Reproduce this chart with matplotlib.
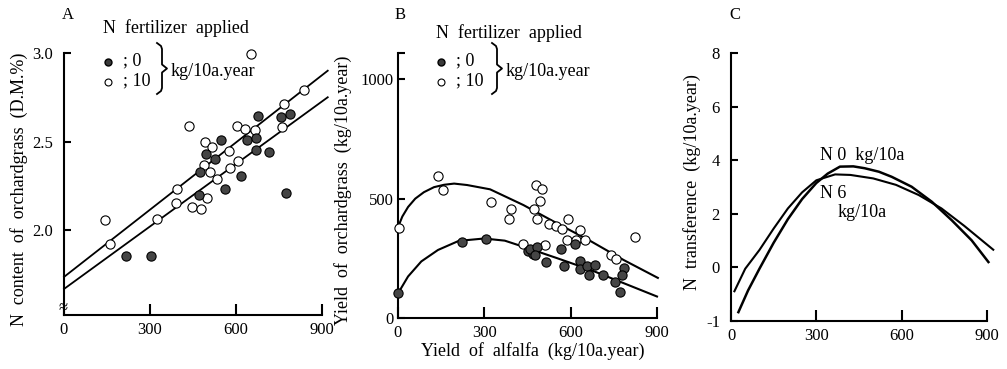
import matplotlib
matplotlib.use('Agg')
import matplotlib.pyplot as plt
from matplotlib.lines import Line2D

plt.rcParams['font.family'] = ['Liberation Serif', 'DejaVu Serif']

# Panel A: N content of orchardgrass vs yield of alfalfa
a_open_x = [143, 160, 654, 435, 325, 395, 392, 445, 478, 499, 491, 517, 488, 510, 533,
            574, 578, 604, 606, 633, 665, 766, 761, 836]
a_open_y = [2.057, 1.92, 2.996, 2.59, 2.06, 2.23, 2.15, 2.13, 2.12, 2.18, 2.50, 2.47, 2.37, 2.33, 2.29,
            2.445, 2.35, 2.59, 2.39, 2.57, 2.566, 2.71, 2.58, 2.79]
a_fill_x = [216, 305, 470, 475, 497, 528, 547, 561, 618, 638, 671, 675, 671, 715, 758, 790, 773]
a_fill_y = [1.853, 1.853, 2.20, 2.33, 2.43, 2.40, 2.51, 2.23, 2.306, 2.51, 2.52, 2.645, 2.45, 2.44,
            2.636, 2.657, 2.21]
a_line_x = [0, 920]
a_upper_y = [1.735, 2.90]
a_lower_y = [1.667, 2.75]

# Panel B: yield of orchardgrass vs yield of alfalfa
b_open_x = [3, 138, 157, 323, 392, 386, 478, 501, 495, 474, 482, 525, 549, 571, 592, 587,
            631, 620, 651, 433, 510, 822, 741, 757]
b_open_y = [379, 596, 536, 486, 458, 415, 556, 539, 490, 455, 415, 394, 386, 372, 416, 327,
            369, 327, 327, 309, 304, 341, 265, 247]
b_fill_x = [0, 221, 305, 452, 470, 460, 483, 475, 514, 567, 577, 615, 632, 633, 656, 683,
            662, 711, 753, 773, 784, 779]
b_fill_y = [104, 320, 331, 282, 267, 288, 299, 262, 235, 288, 216, 309, 240, 205, 216, 220,
            181, 180, 149, 110, 209, 180]
b_up_x = [0, 15, 35, 60, 90, 125, 160, 195, 240, 320, 436, 552, 668, 784, 903]
b_up_y = [380, 425, 465, 500, 527, 548, 558, 563, 557, 539, 473, 397, 323, 243, 168]
b_lo_x = [0, 35, 81, 139, 211, 299, 371, 452, 552, 668, 784, 900]
b_lo_y = [103, 174, 237, 285, 323, 333, 324, 292, 251, 202, 146, 90]

# Panel C: N transference
c_n6_x = [12, 50, 100, 150, 200, 250, 300, 366, 420, 500, 580, 660, 740, 820, 922]
c_n6_y = [-0.89, -0.05, 0.65, 1.45, 2.2, 2.8, 3.25, 3.47, 3.45, 3.32, 3.08, 2.7, 2.2, 1.55, 0.66]
c_n0_x = [26, 60, 100, 150, 200, 250, 300, 340, 383, 430, 470, 520, 565, 635, 706, 776, 846, 905]
c_n0_y = [-1.67, -0.86, -0.05, 0.92, 1.8, 2.55, 3.15, 3.5, 3.76, 3.77, 3.7, 3.57, 3.38, 3.01,
          2.45, 1.76, 1.01, 0.2]

x_ticks = [0, 300, 600, 900]
a_yticks = [2.0, 2.5, 3.0]
b_yticks = [0, 500, 1000]
c_yticks = [-2, 0, 2, 4, 6, 8]
c_ylabels = ['-1', '0', '2', '4', '6', '8']

W, H = 1007, 369
fig = plt.figure(figsize=(W / 100, H / 100), dpi=100)


def fx(px):
    return px / W


def fy(py):
    return 1 - py / H


def make_axes(left, right, bottom, top):
    ax = fig.add_axes([fx(left), fy(bottom), fx(right) - fx(left), fy(top) - fy(bottom)])
    for s in ['top', 'right']:
        ax.spines[s].set_visible(False)
    for s in ['left', 'bottom']:
        ax.spines[s].set_linewidth(1.5)
    ax.tick_params(direction='in', width=1.5, labelsize=12)
    ax.tick_params(axis='x', length=8, pad=5)
    ax.tick_params(axis='y', length=5, pad=8)
    ax.set_xlim(0, 900)
    ax.set_xticks(x_ticks)
    return ax


def ylabel_at(ax, text, px_right, left, right, yfrac):
    ax.set_ylabel(text, fontsize=13)
    ax.yaxis.set_label_coords((px_right - left) / (right - left), yfrac)


def brace(xm, tip, hook, y0, y1):
    ym = (y0 + y1) / 2
    xs = [hook, xm - 1, xm, xm, tip, xm, xm, xm - 1, hook]
    ys = [y0, y0 + 3, y0 + 6, ym - 4, ym, ym + 4, y1 - 6, y1 - 3, y1]
    fig.add_artist(Line2D([fx(v) for v in xs], [fy(v) for v in ys], color='black', lw=1.3,
                          transform=fig.transFigure))


def legend_block(x0, ytitle, xbr):
    fig.text(fx(x0 - 5), fy(ytitle), 'N  fertilizer  applied', fontsize=13, va='center')
    fig.add_artist(Line2D([fx(x0)], [fy(62)], marker='o', ms=5, mfc='#3a3a3a', mec='black',
                          transform=fig.transFigure))
    fig.add_artist(Line2D([fx(x0)], [fy(82)], marker='o', ms=5, mfc='white', mec='black',
                          mew=0.8, transform=fig.transFigure))
    fig.text(fx(x0 + 15), fy(61), '; 0', fontsize=13, va='center')
    fig.text(fx(x0 + 15), fy(81), '; 10', fontsize=13, va='center')
    brace(xbr, xbr + 5, xbr - 5, 43, 94)
    fig.text(fx(xbr + 9), fy(72), 'kg/10a.year', fontsize=13, va='center')


# ---- A ----
axA = make_axes(64, 322, 315, 53)
axA.set_ylim(1.52, 3.0)
axA.set_yticks(a_yticks)
axA.set_yticklabels(['2.0', '2.5', '3.0'])
axA.plot(a_line_x, a_upper_y, color='black', lw=1.3, clip_on=False)
axA.plot(a_line_x, a_lower_y, color='black', lw=1.3, clip_on=False)
axA.scatter(a_open_x, a_open_y, s=44, facecolor='white', edgecolor='black', lw=0.8,
            zorder=3, clip_on=False)
axA.scatter(a_fill_x, a_fill_y, s=44, facecolor='#454545', edgecolor='black', lw=0.8,
            zorder=3, clip_on=False)
ylabel_at(axA, 'N  content  of  orchardgrass  (D.M.%)', 28, 64, 322, 0.48)
axA.text(-0.005, 0.025, '≈', transform=axA.transAxes, fontsize=12, ha='center', va='center')
fig.text(fx(62), fy(15), 'A', fontsize=12, va='center')
legend_block(108, 28, 162)

# ---- B ----
axB = make_axes(398, 657, 318, 53)
axB.set_ylim(0, 1110)
axB.set_yticks(b_yticks + [1110])
axB.set_yticklabels(['0', '500', '1000', ''])
axB.tick_params(axis='y', pad=3)
axB.plot(b_up_x, b_up_y, color='black', lw=1.5, clip_on=False)
axB.plot(b_lo_x, b_lo_y, color='black', lw=1.5, clip_on=False)
axB.scatter(b_open_x, b_open_y, s=44, facecolor='white', edgecolor='black', lw=0.8,
            zorder=3, clip_on=False)
axB.scatter(b_fill_x, b_fill_y, s=44, facecolor='#454545', edgecolor='black', lw=0.8,
            zorder=3, clip_on=False)
ylabel_at(axB, 'Yield  of  orchardgrass  (kg/10a.year)', 352, 398, 657, 0.48)
axB.set_xlabel('Yield  of  alfalfa  (kg/10a.year)', fontsize=13)
axB.xaxis.set_label_coords(0.52, (fy(342) - fy(318)) / (fy(53) - fy(318)))
fig.text(fx(395), fy(15), 'B', fontsize=12, va='center')
legend_block(441, 33, 497)

# ---- C ----
axC = make_axes(731, 987, 321, 53)
axC.set_ylim(-2, 8)
axC.set_yticks(c_yticks)
axC.set_yticklabels(c_ylabels)
axC.plot(c_n0_x, c_n0_y, color='black', lw=1.8, clip_on=False)
axC.plot(c_n6_x, c_n6_y, color='black', lw=1.5, clip_on=False)
axC.text(314, 4.19, 'N 0  kg/10a', fontsize=13, va='center')
axC.text(314, 2.77, 'N 6', fontsize=13, va='center')
axC.text(373, 2.06, 'kg/10a', fontsize=13, va='center')
ylabel_at(axC, 'N  transference  (kg/10a.year)', 701, 731, 987, 0.52)
fig.text(fx(729), fy(15), 'C', fontsize=12, va='center')

fig.savefig('out.png', dpi=100)
